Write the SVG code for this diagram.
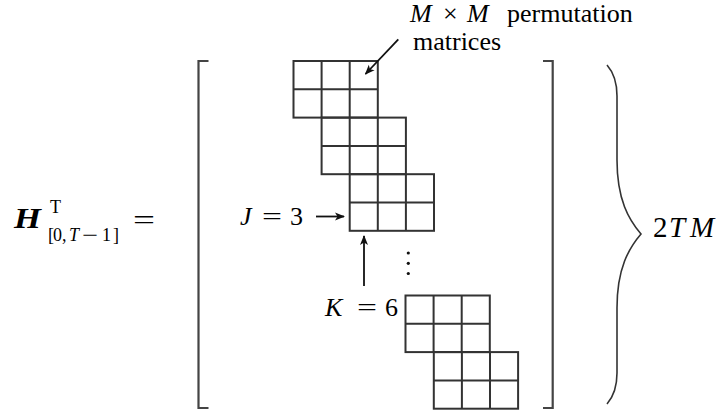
<svg xmlns="http://www.w3.org/2000/svg" width="726" height="410" viewBox="0 0 726 410">
<style>
.t{font-family:"Liberation Serif","Times New Roman",serif;fill:#000}
.i{font-style:italic}
.ln{stroke:#333;stroke-width:2;fill:none}
.br{stroke:#444;stroke-width:2.2;fill:none}
.ar{stroke:#111;stroke-width:1.8;fill:none}
</style>
<defs>
<g id="grid">
<rect x="0" y="0" width="84.3" height="56.6" class="ln"/>
<path d="M28.1 0V56.6M56.2 0V56.6M0 28.3H84.3" class="ln"/>
</g>
<marker id="ah" viewBox="0 0 10 10" refX="9" refY="5" markerWidth="10" markerHeight="10" markerUnits="userSpaceOnUse" orient="auto">
<path d="M0 1 L10 5 L0 9 L2.5 5 Z" fill="#111"/>
</marker>
</defs>
<g id="lhs">
<text class="t" x="14" y="228" font-size="29" font-weight="bold" font-style="italic" textLength="27" lengthAdjust="spacingAndGlyphs">H</text>
<text class="t" x="50" y="213" font-size="18">T</text>
<text class="t" y="241" font-size="18"><tspan x="48">[</tspan><tspan x="53">0</tspan><tspan x="62">,</tspan><tspan x="69" class="i">T</tspan><tspan x="102">1</tspan><tspan x="113">]</tspan></text>
<text class="t" x="82" y="241" font-size="18" textLength="16" lengthAdjust="spacingAndGlyphs">−</text>
<text class="t" x="133" y="229" font-size="28" textLength="22" lengthAdjust="spacingAndGlyphs">=</text>
</g>
<g id="brackets">
<path class="br" d="M208.5 61H198.5V408H208.5"/>
<path class="br" d="M543 61H552.7V408H543"/>
</g>
<g id="brace">
<path d="M607 65C614 73 617 82 617 96L617 160C617 200 629 220 641 234C629 248 617 268 617 308L617 373C617 387 614 396 607 404" stroke="#333" stroke-width="1.6" fill="none"/>
<text class="t" y="237" font-size="29"><tspan x="653">2</tspan><tspan x="669" class="i">T</tspan><tspan x="690" class="i">M</tspan></text>
</g>
<g id="block1"><use href="#grid" x="293.5" y="61"/></g>
<g id="block2"><use href="#grid" x="321.6" y="117.6"/></g>
<g id="block3"><use href="#grid" x="349.7" y="174.2"/></g>
<g id="block4"><use href="#grid" x="405.5" y="295.5"/></g>
<g id="block5"><use href="#grid" x="433.8" y="352.1"/></g>
<g id="dots" fill="#111">
<circle cx="408.3" cy="253" r="1.6"/>
<circle cx="408.3" cy="263.3" r="1.6"/>
<circle cx="408.3" cy="273.5" r="1.6"/>
</g>
<g id="label-perm">
<text class="t" y="22" font-size="26"><tspan x="410" class="i">M</tspan><tspan x="443">×</tspan><tspan x="467" class="i">M</tspan><tspan x="507">permutation</tspan></text>
<text class="t" x="413" y="50" font-size="26">matrices</text>
</g>
<g id="label-J">
<text class="t" y="225" font-size="26"><tspan x="240" class="i">J</tspan><tspan x="290">3</tspan></text>
<text class="t" x="262" y="225" font-size="26" textLength="20" lengthAdjust="spacingAndGlyphs">=</text>
</g>
<g id="label-K">
<text class="t" y="316" font-size="26"><tspan x="325" class="i">K</tspan><tspan x="385">6</tspan></text>
<text class="t" x="357" y="316" font-size="26" textLength="20" lengthAdjust="spacingAndGlyphs">=</text>
</g>
<g id="connectors">
<line class="ar" x1="398.3" y1="39.3" x2="365.5" y2="74" marker-end="url(#ah)"/>
<line class="ar" x1="316" y1="216.5" x2="344" y2="216.5" marker-end="url(#ah)"/>
<line class="ar" x1="364" y1="286" x2="364" y2="236" marker-end="url(#ah)"/>
</g>
</svg>
